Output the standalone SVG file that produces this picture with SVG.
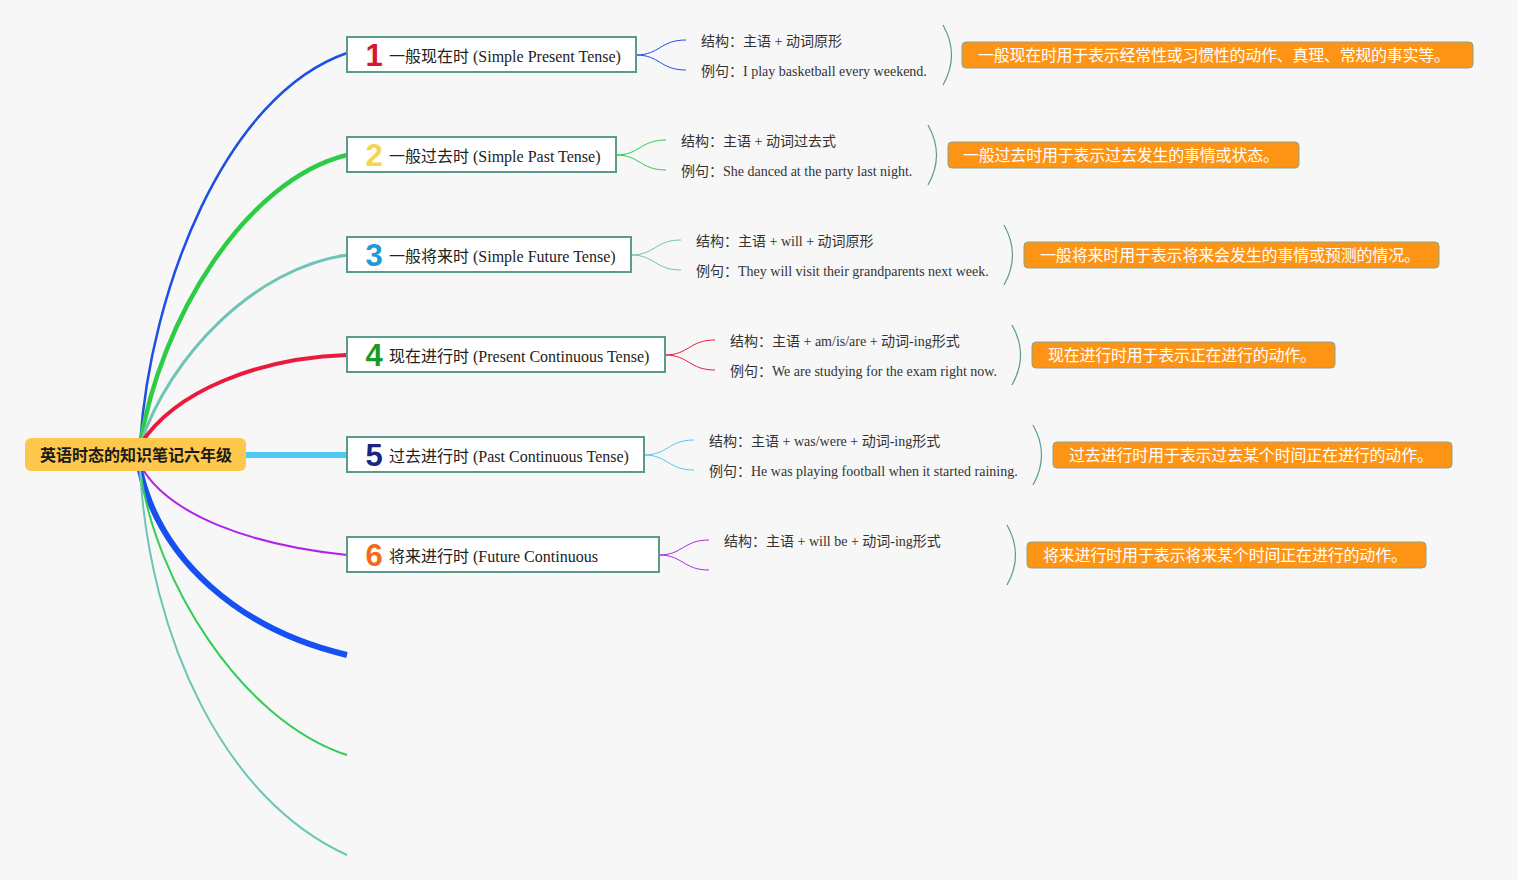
<svg xmlns="http://www.w3.org/2000/svg" width="1518" height="880" viewBox="0 0 1518 880">
<style>
.bg{fill:#f7f7f7}
.root rect{fill:#fdc84c}
.root text{font-family:"Noto Sans CJK SC",sans-serif;font-weight:bold;font-size:16px;fill:#1a1a1a}
.box rect{fill:#ffffff;stroke:#5b9b8b;stroke-width:2}
.title{font-family:"Liberation Serif","Noto Sans CJK SC",serif;font-size:16px;fill:#222}
.num{font-family:"Liberation Sans",Arial,sans-serif;font-weight:bold;font-size:31px}
.sub{font-family:"Liberation Serif","Noto Sans CJK SC",serif;font-size:14px;fill:#333}
.brk{fill:none;stroke:#5b9b8b;stroke-width:1.2}
.note rect{fill:#fe9416;stroke:#8aa48a;stroke-width:1}
.note text{font-family:"Noto Sans CJK SC",sans-serif;font-size:16px;fill:#ffffff}
.conn path{fill:none;stroke-linecap:butt}
</style>
<rect class="bg" x="0" y="0" width="1518" height="880"/>

<g id="connectors" class="conn">
  <path d="M140,445 C150,290 225,95 347,53" stroke="#1c4fe2" stroke-width="2.5"/>
  <path d="M140,445 C160,320 245,180 347,155" stroke="#2ecc45" stroke-width="4.5"/>
  <path d="M140,445 C170,355 255,268 347,255" stroke="#6cc5b5" stroke-width="3"/>
  <path d="M140,445 C175,390 260,358 347,355" stroke="#ea1a3c" stroke-width="4"/>
  <path d="M246,455 L347,455" stroke="#4ec8f6" stroke-width="6"/>
  <path d="M142,468 C170,515 250,545 347,555" stroke="#b122ea" stroke-width="2"/>
  <path d="M140,470 C160,560 240,630 347,655" stroke="#1650f2" stroke-width="6"/>
  <path d="M140,470 C155,580 240,720 347,755" stroke="#35cc55" stroke-width="2"/>
  <path d="M140,470 C150,640 225,800 347,855" stroke="#6cc5b5" stroke-width="2"/>

  <path d="M636,55 C660,55 660,40 686,40 M636,55 C660,55 660,70 686,70" stroke="#1c4fe2" stroke-width="1"/>
  <path d="M616,155 C640,155 640,140 666,140 M616,155 C640,155 640,170 666,170" stroke="#2ecc45" stroke-width="1"/>
  <path d="M631,255 C655,255 655,240 681,240 M631,255 C655,255 655,270 681,270" stroke="#6cc5b5" stroke-width="1"/>
  <path d="M665,355 C689,355 689,340 715,340 M665,355 C689,355 689,370 715,370" stroke="#ea1a3c" stroke-width="1"/>
  <path d="M644,455 C668,455 668,440 694,440 M644,455 C668,455 668,470 694,470" stroke="#4ec8f6" stroke-width="1"/>
  <path d="M659,555 C683,555 683,540 709,540 M659,555 C683,555 683,570 709,570" stroke="#b122ea" stroke-width="1"/>
</g>

<g id="root" class="root">
  <rect x="25" y="438" width="221" height="33" rx="6"/>
  <text x="136" y="461" text-anchor="middle">英语时态的知识笔记六年级</text>
</g>

<g id="b1" class="box">
  <rect x="347" y="37" width="289" height="35"/>
  <text class="num" x="374" y="66" text-anchor="middle" fill="#d8162c">1</text>
  <text class="title" x="389" y="62">一般现在时 (Simple Present Tense)</text>
</g>
<g id="b2" class="box">
  <rect x="347" y="137" width="269" height="35"/>
  <text class="num" x="374" y="166" text-anchor="middle" fill="#f3d552">2</text>
  <text class="title" x="389" y="162">一般过去时 (Simple Past Tense)</text>
</g>
<g id="b3" class="box">
  <rect x="347" y="237" width="284" height="35"/>
  <text class="num" x="374" y="266" text-anchor="middle" fill="#1e9ad8">3</text>
  <text class="title" x="389" y="262">一般将来时 (Simple Future Tense)</text>
</g>
<g id="b4" class="box">
  <rect x="347" y="337" width="318" height="35"/>
  <text class="num" x="374" y="366" text-anchor="middle" fill="#1a9a22">4</text>
  <text class="title" x="389" y="362">现在进行时 (Present Continuous Tense)</text>
</g>
<g id="b5" class="box">
  <rect x="347" y="437" width="297" height="35"/>
  <text class="num" x="374" y="466" text-anchor="middle" fill="#1c2580">5</text>
  <text class="title" x="389" y="462">过去进行时 (Past Continuous Tense)</text>
</g>
<g id="b6" class="box">
  <rect x="347" y="537" width="312" height="35"/>
  <text class="num" x="374" y="566" text-anchor="middle" fill="#f36a18">6</text>
  <text class="title" x="389" y="562">将来进行时 (Future Continuous</text>
</g>

<g id="s1">
  <text class="sub" x="701" y="46">结构：主语 + 动词原形</text>
  <text class="sub" x="701" y="76">例句：I play basketball every weekend.</text>
  <path class="brk" d="M943,25 Q960,55 943,85"/>
</g>
<g id="s2">
  <text class="sub" x="681" y="146">结构：主语 + 动词过去式</text>
  <text class="sub" x="681" y="176">例句：She danced at the party last night.</text>
  <path class="brk" d="M928,125 Q945,155 928,185"/>
</g>
<g id="s3">
  <text class="sub" x="696" y="246">结构：主语 + will + 动词原形</text>
  <text class="sub" x="696" y="276">例句：They will visit their grandparents next week.</text>
  <path class="brk" d="M1004,225 Q1021,255 1004,285"/>
</g>
<g id="s4">
  <text class="sub" x="730" y="346">结构：主语 + am/is/are + 动词-ing形式</text>
  <text class="sub" x="730" y="376">例句：We are studying for the exam right now.</text>
  <path class="brk" d="M1012,325 Q1029,355 1012,385"/>
</g>
<g id="s5">
  <text class="sub" x="709" y="446">结构：主语 + was/were + 动词-ing形式</text>
  <text class="sub" x="709" y="476">例句：He was playing football when it started raining.</text>
  <path class="brk" d="M1033,425 Q1050,455 1033,485"/>
</g>
<g id="s6">
  <text class="sub" x="724" y="546">结构：主语 + will be + 动词-ing形式</text>
  <path class="brk" d="M1007,525 Q1024,555 1007,585"/>
</g>

<g id="n1" class="note">
  <rect x="962" y="42" width="511" height="26" rx="4"/>
  <text x="978" y="61" textLength="472">一般现在时用于表示经常性或习惯性的动作、真理、常规的事实等。</text>
</g>
<g id="n2" class="note">
  <rect x="948" y="142" width="351" height="26" rx="4"/>
  <text x="963" y="161" textLength="316">一般过去时用于表示过去发生的事情或状态。</text>
</g>
<g id="n3" class="note">
  <rect x="1024" y="242" width="415" height="26" rx="4"/>
  <text x="1040" y="261" textLength="380">一般将来时用于表示将来会发生的事情或预测的情况。</text>
</g>
<g id="n4" class="note">
  <rect x="1032" y="342" width="303" height="26" rx="4"/>
  <text x="1048" y="361" textLength="268">现在进行时用于表示正在进行的动作。</text>
</g>
<g id="n5" class="note">
  <rect x="1053" y="442" width="399" height="26" rx="4"/>
  <text x="1069" y="461" textLength="364">过去进行时用于表示过去某个时间正在进行的动作。</text>
</g>
<g id="n6" class="note">
  <rect x="1027" y="542" width="399" height="26" rx="4"/>
  <text x="1043" y="561" textLength="364">将来进行时用于表示将来某个时间正在进行的动作。</text>
</g>
</svg>
